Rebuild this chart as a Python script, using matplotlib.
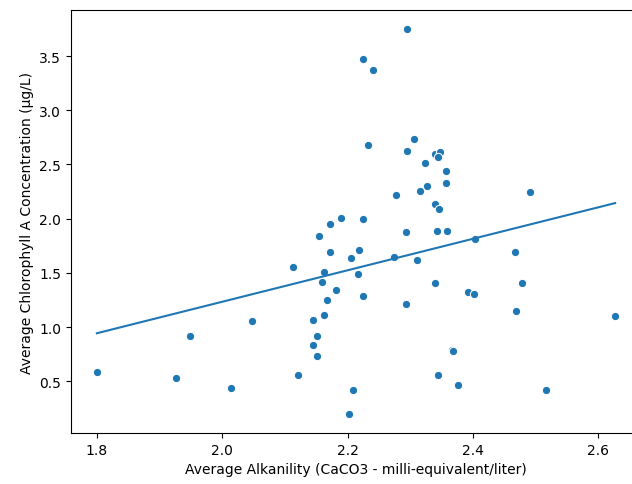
import numpy as np
import matplotlib
matplotlib.use("Agg")
import matplotlib.pyplot as plt

alkalinity = [1.800, 1.927, 1.949, 2.014, 2.047, 2.113, 2.121, 2.145, 2.152, 2.145,
              2.152, 2.208, 2.203, 2.155, 2.172, 2.205, 2.219, 2.162, 2.159, 2.216,
              2.181, 2.168, 2.225, 2.162, 2.232, 2.172, 2.189, 2.225, 2.295, 2.225,
              2.241, 2.306, 2.295, 2.340, 2.347, 2.345, 2.324, 2.357, 2.357, 2.326,
              2.315, 2.278, 2.491, 2.340, 2.346, 2.293, 2.342, 2.359, 2.403, 2.467,
              2.274, 2.311, 2.340, 2.478, 2.393, 2.401, 2.293, 2.469, 2.627, 2.367,
              2.368, 2.344, 2.377, 2.516]
chlorophyll = [0.59, 0.53, 0.92, 0.44, 1.06, 1.55, 0.56, 1.065, 0.917, 0.834,
               0.732, 0.42, 0.20, 1.84, 1.695, 1.634, 1.71, 1.505, 1.412, 1.486,
               1.341, 1.246, 1.289, 1.113, 2.682, 1.95, 2.006, 1.996, 3.746, 3.472,
               3.368, 2.734, 2.626, 2.596, 2.611, 2.565, 2.513, 2.439, 2.331, 2.301,
               2.257, 2.218, 2.248, 2.135, 2.089, 1.879, 1.888, 1.888, 1.815, 1.689,
               1.648, 1.615, 1.403, 1.406, 1.32, 1.307, 1.212, 1.150, 1.099, 0.788,
               0.779, 0.560, 0.465, 0.419]

x = np.array(alkalinity)
y = np.array(chlorophyll)

fig = plt.figure(figsize=(6.32, 4.85), dpi=100)
ax = fig.add_axes([0.1123, 0.105, 0.902, 0.872])

ax.scatter(x, y, s=36, color="#1f77b4", edgecolors="white", linewidths=0.75, zorder=2)

slope, intercept = np.polyfit(x, y, 1)
xl = np.array([x.min(), x.max()])
ax.plot(xl, slope * xl + intercept, color="#1f77b4", lw=1.5, zorder=3)

ax.set_xlabel("Average Alkanility (CaCO3 - milli-equivalent/liter)")
ax.set_ylabel("Average Chlorophyll A Concentration (µg/L)")
ax.set_xticks([1.8, 2.0, 2.2, 2.4, 2.6])
ax.set_yticks([0.5, 1.0, 1.5, 2.0, 2.5, 3.0, 3.5])

fig.savefig("out.png", dpi=100)
